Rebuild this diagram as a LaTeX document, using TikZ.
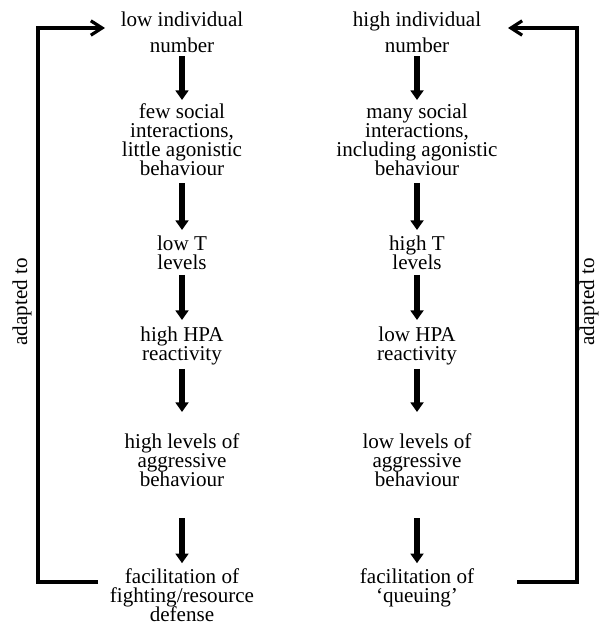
\documentclass[tikz,border=0pt]{standalone}
\usepackage{fontspec}
\setmainfont{Liberation Serif}
\usetikzlibrary{arrows.meta, positioning}
\newcommand{\stagefont}{\fontsize{15pt}{13.5pt}\selectfont\lineskiplimit=-5pt\relax}

\begin{document}
\begin{tikzpicture}
	\tikzset{stage/.style={align=center, inner sep=0pt, anchor=north, font={\stagefont}}}
	\tikzset{arrow/.style={-{Triangle[width=0.32cm, length=0.24cm]}, line width=0.14cm}}
	\tikzset{feedback/.style={-{Straight Barb[width=0.36cm, length=0.28cm]}, line width=0.08cm}}
	\tikzset{sidelabel/.style={rotate=90, inner sep=0pt, font={\fontsize{15pt}{18pt}\selectfont}}}

	\useasboundingbox (0,0) rectangle (15.125,-15.675);

	% Low number
	\node (low0) [stage] at (4.55,-0.29) {low individual\\[5pt]number};
	\node (low1) [stage] at (4.55,-2.59) {few social\\interactions,\\little agonistic\\behaviour};
	\node (low2) [stage] at (4.55,-5.89) {low T\\levels};
	\node (low3) [stage] at (4.55,-8.17) {high HPA\\reactivity};
	\node (low4) [stage] at (4.55,-10.84) {high levels of\\aggressive\\behaviour};
	\node (low5) [stage] at (4.55,-14.22) {facilitation of\\fighting/resource\\defense};

	\draw [arrow, shorten <=0.075cm, shorten >=0.09cm] (low0) -- (low1);
	\draw [arrow, shorten <=0.175cm, shorten >=0.14cm] (low1) -- (low2);
	\draw [arrow, shorten <=0.125cm, shorten >=0.17cm] (low2) -- (low3);
	\draw [arrow, shorten <=0.085cm, shorten >=0.54cm] (low3) -- (low4);
	\draw [arrow, shorten <=0.775cm, shorten >=0.14cm] (low4) -- (low5);

	% High number
	\node (high0) [stage] at (10.425,-0.29) {high individual\\[5pt]number};
	\node (high1) [stage] at (10.425,-2.59) {many social\\interactions,\\including agonistic\\behaviour};
	\node (high2) [stage] at (10.425,-5.89) {high T\\levels};
	\node (high3) [stage] at (10.425,-8.17) {low HPA\\reactivity};
	\node (high4) [stage] at (10.425,-10.84) {low levels of\\aggressive\\behaviour};
	\node (high5) [stage] at (10.425,-14.22) {facilitation of\\`queuing'};

	\draw [arrow, shorten <=0.075cm, shorten >=0.09cm] (high0) -- (high1);
	\draw [arrow, shorten <=0.175cm, shorten >=0.14cm] (high1) -- (high2);
	\draw [arrow, shorten <=0.125cm, shorten >=0.17cm] (high2) -- (high3);
	\draw [arrow, shorten <=0.085cm, shorten >=0.54cm] (high3) -- (high4);
	\draw [arrow, shorten <=0.775cm, shorten >=0.14cm] (high4) -- (high5);

	% Feedback loops
	\coordinate (lowend) at (2.45,-14.55);
	\coordinate (lowtip) at (2.625,-0.7);
	\draw [feedback] (lowend) -- ++(-1.5,0) |- (lowtip);
	\node (adaptlow) [sidelabel] at (0.55,-7.55) {adapted to};

	\coordinate (highend) at (12.925,-14.55);
	\coordinate (hightip) at (12.7,-0.7);
	\draw [feedback] (highend) -- ++(1.5,0) |- (hightip);
	\node (adapthigh) [sidelabel] at (14.725,-7.55) {adapted to};

\end{tikzpicture}
\end{document}
